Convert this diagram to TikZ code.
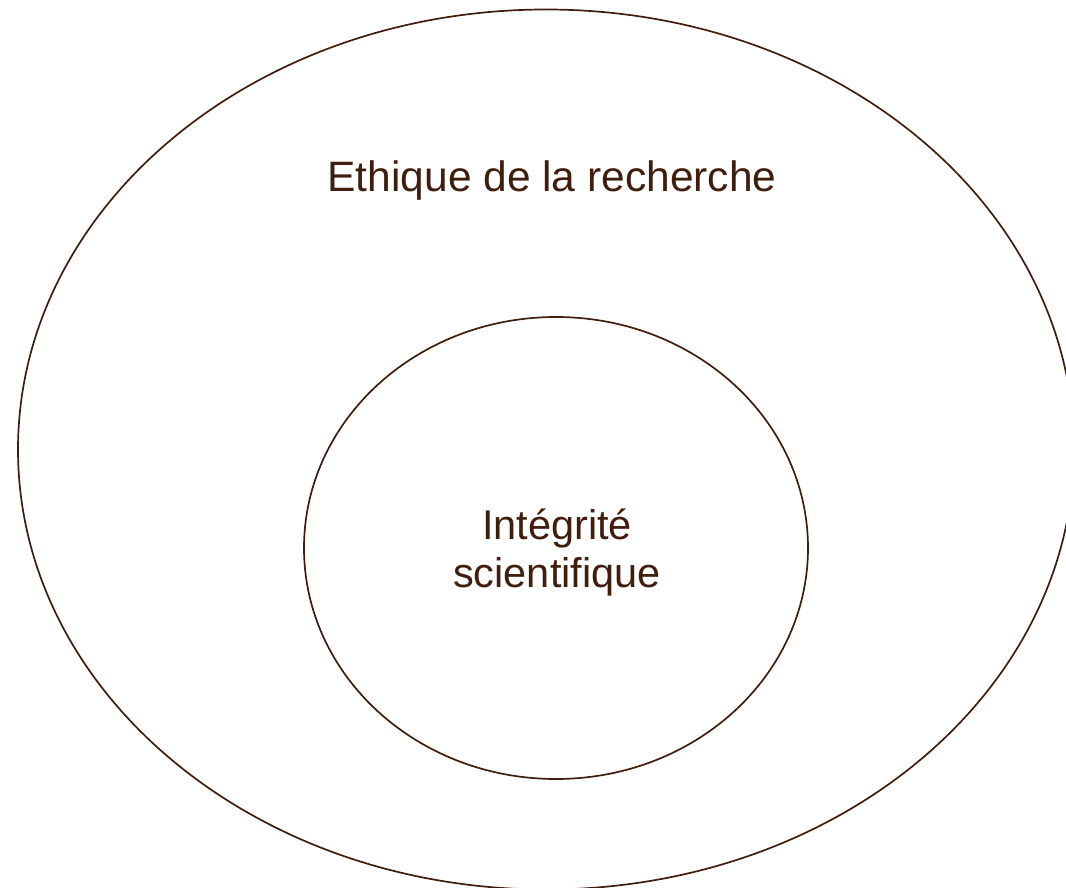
\documentclass[tikz,border=0pt]{standalone}
\usepackage{fontspec}
\setmainfont{Liberation Sans}
\definecolor{ink}{RGB}{64,30,14}
\begin{document}
\begin{tikzpicture}[x=1pt,y=-1pt,
  ring/.style={draw=ink,line width=1.7pt},
  lbl/.style={text=ink,align=center,inner sep=0pt}]
\useasboundingbox (0,0) rectangle (1066,888);
\clip (0,0) rectangle (1066,888);
\draw[ring] (546,449.5) ellipse [x radius=528, y radius=440];
\draw[ring] (556,548) ellipse [x radius=252, y radius=231];
\node[lbl,anchor=base,font=\fontsize{42.5}{50}\selectfont] (outer) at (552,192) {Ethique de la recherche};
\node[lbl,anchor=base,font=\fontsize{41.5}{43}\selectfont] (inner1) at (557,539) {Intégrité};
\node[lbl,anchor=base,font=\fontsize{41.5}{43}\selectfont] (inner2) at (557,587) {scientifique};
\end{tikzpicture}
\end{document}
